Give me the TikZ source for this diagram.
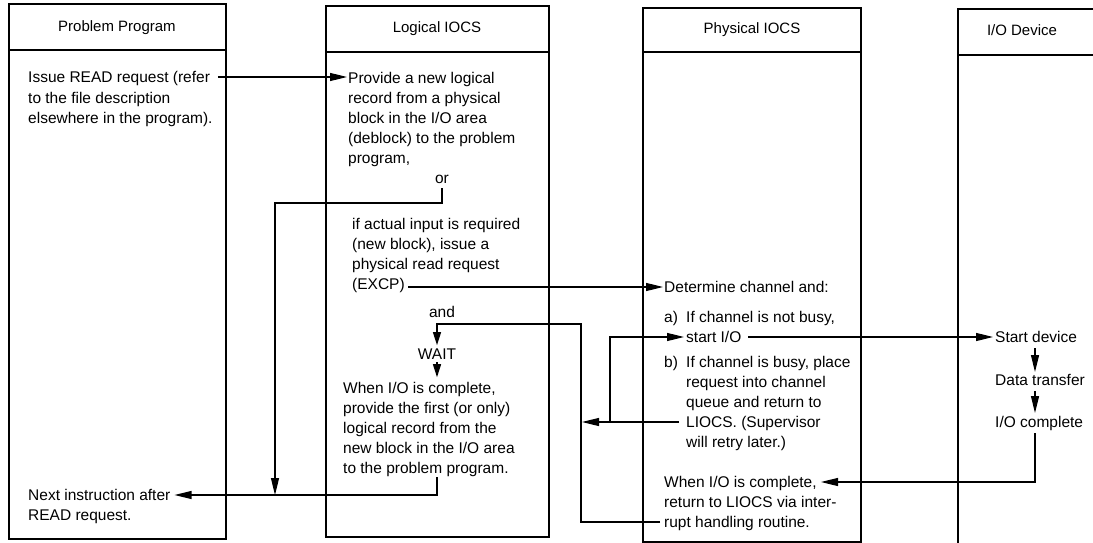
\documentclass[tikz,border=0pt]{standalone}
\usepackage{fontspec}
\setmainfont{Liberation Sans}
\usetikzlibrary{arrows.meta}
\begin{document}
\begin{tikzpicture}[x=1pt,y=-1pt,
  lane/.style={line width=1.7pt},
  link/.style={line width=1.2pt},
  arr/.style={link,-{Triangle[length=17pt,width=8pt]}},
  sarr/.style={link,-{Triangle[length=13pt,width=8pt]}},
  txt/.style={anchor=base west,align=left,inner sep=0pt,font=\fontsize{15.5}{20}\selectfont},
  ctr/.style={anchor=base,inner sep=0pt,font=\fontsize{15.5}{20}\selectfont},
  head/.style={anchor=base,inner sep=0pt,font=\fontsize{15}{18}\selectfont}]
\useasboundingbox (0,0) rectangle (1093,543);
\fill[white] (0,0) rectangle (1093,543);
\clip (0,0) rectangle (1093,543);

% the four lanes with their title bars
\draw[lane] (9,4) rectangle (226,539);   \draw[lane] (9,50) -- (226,50);
\draw[lane] (326,6) rectangle (549,537); \draw[lane] (326,52) -- (549,52);
\draw[lane] (643,8) rectangle (861,542); \draw[lane] (643,52) -- (861,52);
\draw[lane] (958,9) rectangle (1130,580); \draw[lane] (958,55) -- (1130,55);

\node[head] (hProg) at (117,32) {Problem Program};
\node[head] (hLog)  at (437,33) {Logical IOCS};
\node[head] (hPhys) at (752,34) {Physical IOCS};
\node[head] (hDev)  at (1022,36) {I/O Device};

% multi-line texts are placed by the baseline of their last line
% problem program
\node[txt] (issue) at (28,123) {Issue READ request (refer\\to the file description\\elsewhere in the program).};
\node[txt] (next)  at (28,520) {Next instruction after\\READ request.};

% logical IOCS
\node[txt] (provide) at (348,163) {Provide a new logical\\record from a physical\\block in the I/O area\\(deblock) to the problem\\program,};
\node[ctr] (or)    at (442,183) {or};
\node[txt] (ifact) at (352,289) {if actual input is required\\(new block), issue a\\physical read request\\(EXCP)};
\node[ctr] (and)   at (442,317) {and};
\node[ctr] (wait)  at (437,359) {WAIT};
\node[txt] (whenL) at (343,473) {When I/O is complete,\\provide the first (or only)\\logical record from the\\new block in the I/O area\\to the problem program.};

% physical IOCS
\node[txt] (det)   at (664,292) {Determine channel and:};
\node[txt] (ia)    at (664,322) {a)};
\node[txt] (ta)    at (686,342) {If channel is not busy,\\start I/O};
\node[txt] (ib)    at (664,367) {b)};
\node[txt] (tb)    at (686,447) {If channel is busy, place\\request into channel\\queue and return to\\LIOCS. (Supervisor\\will retry later.)};
\node[txt] (whenP) at (664,527) {When I/O is complete,\\return to LIOCS via inter-\\rupt handling routine.};

% I/O device
\node[txt] (sdev)  at (995,342) {Start device};
\node[txt] (xfer)  at (995,385) {Data transfer};
\node[txt] (iocmp) at (995,427) {I/O complete};

% connector end points that sit on inner text lines or on other lines
\coordinate (orbend)  at (275,203);
\coordinate (orjoin)  at (275,495);
\coordinate (lret)    at (437,477);
\coordinate (excp)    at (408,287);
\coordinate (sio)     at (748,337);
\coordinate (pdone)   at (821,482);
\coordinate (liocs)   at (679,422);
\coordinate (waitjoin) at (582,422);
\coordinate (retry)   at (610,422);
\coordinate (looptop) at (581,324);

% connectors
\draw[arr] ([shift={(5,-46)}]issue.base east) -- ([shift={(-1,-86)}]provide.base west);
\draw[arr] ([shift={(0,5)}]or.south) |- (orbend) -- (orjoin);
\draw[arr] (lret) |- ([shift={(4,-25)}]next.base east);
\draw[arr] (excp) -- ([shift={(-1,-5)}]det.base west);
\draw[sarr] ([shift={(-4,-5)}]whenP.base west) -| (looptop) -| ([shift={(0,-3)}]wait.north);
\draw[sarr] ([shift={(0,3)}]wait.south) -- ++(0,15);
\draw[arr] (liocs) -- (waitjoin);
\draw[arr] (retry) |- ([shift={(-2,-5)}]ta.base west);
\draw[arr] (sio) -- ([shift={(-2,-5)}]sdev.base west);
\draw[arr] ([shift={(40,6)}]sdev.base west) -- ([shift={(40,-13)}]xfer.base west);
\draw[arr] ([shift={(40,6)}]xfer.base west) -- ([shift={(40,-14)}]iocmp.base west);
\draw[arr] ([shift={(40,6)}]iocmp.base west) |- (pdone);
\end{tikzpicture}
\end{document}
